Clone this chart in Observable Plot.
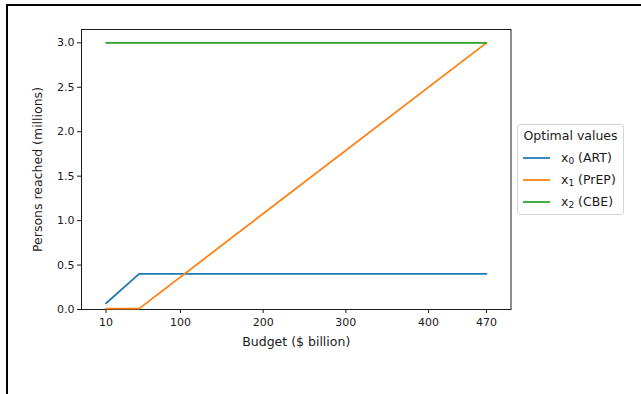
<!DOCTYPE html>
<html>
<head>
<meta charset="utf-8">
<script src="https://cdn.jsdelivr.net/npm/d3@7"></script>
<script src="https://cdn.jsdelivr.net/npm/@observablehq/plot@0.6"></script>
<style>
  html, body { margin: 0; padding: 0; background: #fff; }
  #fig { position: relative; width: 641px; height: 394px; overflow: hidden;
         font-family: "DejaVu Sans", sans-serif; }
  #fig svg { position: absolute; left: 0; top: 0; }
  #edge { position: absolute; left: 6px; top: 4px; right: -10px; bottom: -10px;
          border-top: 2px solid #000; border-left: 2px solid #000; pointer-events: none; }
  #legend { position: absolute; left: 517px; top: 124px; width: 107px; height: 91px;
            box-sizing: border-box; border: 1px solid #d6d6d6; border-radius: 3px;
            background: #fff; font-size: 12.5px; color: #1a1a1a; }
  #legend .title { text-align: center; margin-top: 2px; height: 20px; line-height: 18px; }
  #legend .row { display: flex; align-items: center; height: 22px; }
  #legend .row svg { position: static; margin-left: 5px; margin-right: 11px; }
  #legend sub { font-size: 9px; vertical-align: -2px; }
</style>
</head>
<body>
<div id="fig"></div>
<script>
// Optimal allocation by total budget ($ billion)
const budget = [10, 50, 470];
const art = [0.07, 0.4, 0.4];    // x0 (ART)
const prep = [0.01, 0.01, 3.0];  // x1 (PrEP)
const cbe = [3.0, 3.0, 3.0];     // x2 (CBE)

const seriesNames = ["x0 (ART)", "x1 (PrEP)", "x2 (CBE)"];
const seriesLabels = [["x", "0", " (ART)"], ["x", "1", " (PrEP)"], ["x", "2", " (CBE)"]];
const seriesColors = ["#1f77b4", "#ff7f0e", "#2ca02c"];
const xTicks = [10, 100, 200, 300, 400, 470];
const yTicks = [0, 0.5, 1.0, 1.5, 2.0, 2.5, 3.0];

const rows = [];
[art, prep, cbe].forEach((vals, i) => {
  budget.forEach((b, j) => rows.push({budget: b, value: vals[j], series: seriesNames[i]}));
});

const ink = "#1a1a1a";
const chart = Plot.plot({
  width: 641,
  height: 394,
  marginLeft: 81,
  marginRight: 130.5,
  marginTop: 29,
  marginBottom: 85,
  style: {fontFamily: "DejaVu Sans, sans-serif", fontSize: "11px", color: ink, background: "transparent"},
  x: {domain: [-19.7, 499.7], ticks: xTicks, tickFormat: d => String(d), label: null},
  y: {domain: [0, 3.15], ticks: yTicks, tickFormat: d3.format(".1f"), label: null},
  color: {domain: seriesNames, range: seriesColors},
  marks: [
    Plot.frame({stroke: ink, strokeWidth: 1}),
    Plot.axisX({ticks: xTicks, tickSize: 4, tickPadding: 5, label: null, stroke: ink, fill: ink}),
    Plot.axisY({ticks: yTicks, tickSize: 4, tickPadding: 3, label: null, stroke: ink, fill: ink}),
    Plot.line(rows, {x: "budget", y: "value", z: "series", stroke: "series", strokeWidth: 1.75}),
    Plot.text(["Budget ($ billion)"], {frameAnchor: "bottom", dy: 36, fontSize: 12.5, fill: ink}),
    Plot.text(["Persons reached (millions)"], {frameAnchor: "left", textAnchor: "middle", dx: -44, rotate: -90, fontSize: 12.5, fill: ink})
  ]
});

const fig = document.getElementById("fig");
fig.appendChild(chart);

const edge = document.createElement("div");
edge.id = "edge";
fig.appendChild(edge);

// Legend box
const legend = document.createElement("div");
legend.id = "legend";
const title = document.createElement("div");
title.className = "title";
title.textContent = "Optimal values";
legend.appendChild(title);
seriesLabels.forEach((parts, i) => {
  const row = document.createElement("div");
  row.className = "row";
  row.innerHTML =
    `<svg width="27" height="4"><line x1="0" y1="2" x2="27" y2="2" stroke="${seriesColors[i]}" stroke-width="1.75"/></svg>` +
    `<span>${parts[0]}<sub>${parts[1]}</sub>${parts[2]}</span>`;
  legend.appendChild(row);
});
fig.appendChild(legend);
</script>
</body>
</html>
